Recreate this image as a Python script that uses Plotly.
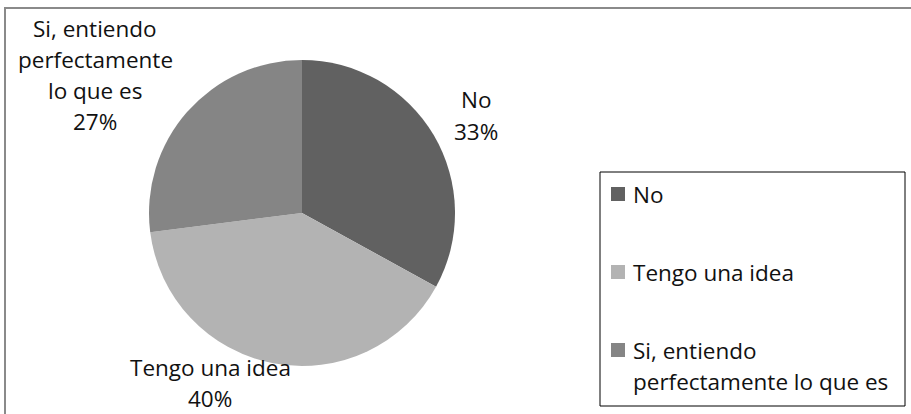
import plotly.graph_objects as go

# Chart data
labels = ["No", "Tengo una idea", "Si, entiendo perfectamente lo que es"]
values = [33, 40, 27]
colors = ["#616161", "#b3b3b3", "#858585"]

# How each label is broken into lines (on the pie and in the legend)
pie_label_lines = [["No"], ["Tengo una idea"], ["Si, entiendo", "perfectamente", "lo que es"]]
legend_label_lines = [["No"], ["Tengo una idea"], ["Si, entiendo", "perfectamente lo que es"]]

W, H = 911, 414
FONT = "Open Sans"
FS = 22.5
LINE = 31


def px(x):
    return x / W


def py(y):
    return 1 - y / H


# Pie geometry in pixels
cx, cy, r = 302, 213, 153

fig = go.Figure(go.Pie(
    labels=labels,
    values=values,
    sort=False,
    direction="clockwise",
    rotation=0,
    marker={"colors": colors, "line": {"width": 0}},
    textinfo="none",
    hoverinfo="label+percent",
    showlegend=False,
    domain={"x": [px(cx - r), px(cx + r)], "y": [py(cy + r), py(cy - r)]},
))

annotations = []
shapes = []

# Data labels outside the pie: (centre x, y of first line)
label_pos = [(476, 100), (210, 367), (95, 29)]
for lines, v, (lx, ly) in zip(pie_label_lines, values, label_pos):
    for i, t in enumerate(lines + [f"{v}%"]):
        annotations.append(dict(
            x=px(lx), y=py(ly + i * LINE), xref="paper", yref="paper",
            text=t, showarrow=False, xanchor="center", yanchor="middle",
            font={"family": FONT, "size": FS, "color": "#111111"},
        ))

# Hand-drawn legend box
shapes.append(dict(type="rect", xref="paper", yref="paper",
                   x0=px(600), x1=px(905), y0=py(406), y1=py(172),
                   line={"color": "#000000", "width": 1}, fillcolor="white"))
legend_y = [194, 272, 350]
for lines, c, ly in zip(legend_label_lines, colors, legend_y):
    shapes.append(dict(type="rect", xref="paper", yref="paper",
                       x0=px(611), x1=px(625), y0=py(ly + 7), y1=py(ly - 7),
                       line={"width": 0}, fillcolor=c))
    for i, t in enumerate(lines):
        annotations.append(dict(
            x=px(631), y=py(ly + i * LINE), xref="paper", yref="paper",
            text=t, showarrow=False, xanchor="left", yanchor="middle",
            font={"family": FONT, "size": FS, "color": "#111111"},
        ))

# Outer chart frame (right/bottom edges run off the picture)
shapes.append(dict(type="rect", xref="paper", yref="paper",
                   x0=px(5), x1=px(W + 20), y0=py(H + 20), y1=py(8),
                   line={"color": "#8a8a8a", "width": 2}, layer="below"))

fig.update_layout(
    width=W,
    height=H,
    margin={"l": 0, "r": 0, "t": 0, "b": 0},
    paper_bgcolor="white",
    plot_bgcolor="white",
    annotations=annotations,
    shapes=shapes,
    showlegend=False,
)

# drop the page's default body margin so the figure sits at the window corner
fig.write_html(
    "out.html",
    config={"displayModeBar": False},
    post_script="document.body.style.margin='0';document.body.style.overflow='hidden';",
)
